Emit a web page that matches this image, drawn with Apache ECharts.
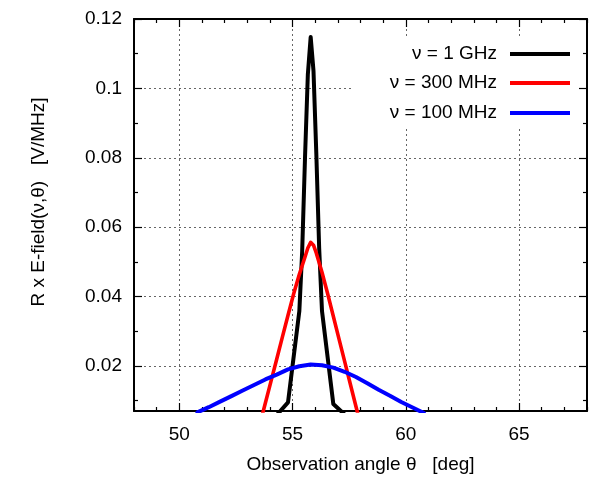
<!DOCTYPE html>
<html>
<head>
<meta charset="utf-8">
<script src="https://cdn.jsdelivr.net/npm/echarts@6/dist/echarts.min.js"></script>
<style>
html,body{margin:0;padding:0;background:#fff;}
#c{width:593px;height:479px;}
</style>
</head>
<body>
<div id="c"></div>
<script>
// ---- data ----
const seriesNames = ['ν = 1 GHz', 'ν = 300 MHz', 'ν = 100 MHz'];
const seriesColors = ['#000000', '#ff0000', '#0000ff'];

const ghz1X = [54.3, 54.8, 55.3, 55.425, 55.55, 55.675, 55.8, 55.925, 56.05, 56.175, 56.3, 56.8, 57.3];
const ghz1Y = [0.0058, 0.0095, 0.0358, 0.0530, 0.0800, 0.1040, 0.1148, 0.1050, 0.0810, 0.0540, 0.0358, 0.0090, 0.0060];

const mhz300X = [53.55, 53.8, 54.05, 54.3, 54.55, 54.8, 55.05, 55.3, 55.55, 55.675, 55.8, 55.925, 56.05, 56.3, 56.55, 56.8, 57.05, 57.3, 57.55, 57.8, 58.05];
const mhz300Y = [0.0030, 0.0093, 0.0156, 0.0219, 0.0283, 0.0346, 0.0408, 0.0464, 0.0514, 0.0540, 0.0556, 0.0548, 0.0525, 0.0470, 0.0408, 0.0343, 0.0278, 0.0213, 0.0148, 0.0083, 0.0018];

const mhz100X = [50.8, 51.3, 51.8, 52.3, 52.8, 53.3, 53.8, 54.3, 54.8, 55.3, 55.8, 56.3, 56.8, 57.3, 57.8, 58.3, 58.8, 59.3, 59.8, 60.3, 60.8];
const mhz100Y = [0.0066, 0.0081, 0.0097, 0.0113, 0.0129, 0.0145, 0.0161, 0.0175, 0.0190, 0.0199, 0.0204, 0.0202, 0.0195, 0.0183, 0.0168, 0.0150, 0.0131, 0.0114, 0.0096, 0.0080, 0.0064];

const xRange = [48, 68];
const yRange = [0.007, 0.12];
const xMajorTicks = [50, 55, 60, 65];
const xTickLabels = ['50', '55', '60', '65'];
const xMinorTicks = [48, 49, 51, 52, 53, 54, 56, 57, 58, 59, 61, 62, 63, 64, 66, 67, 68];
const yMajorTicks = [0.02, 0.04, 0.06, 0.08, 0.1, 0.12];
const yTickLabels = ['0.02', '0.04', '0.06', '0.08', '0.1', '0.12'];
const yMinorTicks = [0.01, 0.03, 0.05, 0.07, 0.09, 0.11];

const xTitle = 'Observation angle θ   [deg]';
const yTitle = 'R x E-field(ν,θ)   [V/MHz]';

// ---- chart ----
const FONT = 'Liberation Sans, Arial, Helvetica, sans-serif';
const zip = (xs, ys) => xs.map((x, i) => [x, ys[i]]);
const seriesData = [zip(ghz1X, ghz1Y), zip(mhz300X, mhz300Y), zip(mhz100X, mhz100Y)];

function mkX(pos, vals, len, main) {
  return {
    type: 'value', min: xRange[0], max: xRange[1], position: pos,
    axisLine: { show: main, onZero: false, lineStyle: { color: '#000', width: 2 } },
    axisTick: { show: true, inside: true, length: len, customValues: vals, lineStyle: { color: '#000', width: 1.2 } },
    axisLabel: (main && pos === 'bottom') ? {
      show: true, customValues: xMajorTicks, margin: 14, color: '#000', fontSize: 19, fontFamily: FONT,
      formatter: v => xTickLabels[xMajorTicks.indexOf(v)] ?? String(v)
    } : { show: false },
    splitLine: (main && pos === 'bottom') ? { show: true, lineStyle: { color: '#666', width: 1, type: [2, 3] } } : { show: false },
    name: (main && pos === 'bottom') ? xTitle : '',
    nameLocation: 'middle', nameGap: 44,
    nameTextStyle: { color: '#000', fontSize: 19, fontFamily: FONT }
  };
}
function mkY(pos, vals, len, main) {
  return {
    type: 'value', min: yRange[0], max: yRange[1], position: pos,
    axisLine: { show: main, onZero: false, lineStyle: { color: '#000', width: 2 } },
    axisTick: { show: true, inside: true, length: len, customValues: vals, lineStyle: { color: '#000', width: 1.2 } },
    axisLabel: (main && pos === 'left') ? {
      show: true, customValues: yMajorTicks, margin: 12, color: '#000', fontSize: 19, fontFamily: FONT,
      formatter: v => { const i = yMajorTicks.findIndex(t => Math.abs(t - v) < 1e-9); return i >= 0 ? yTickLabels[i] : String(v); }
    } : { show: false },
    splitLine: (main && pos === 'left') ? { show: true, lineStyle: { color: '#666', width: 1, type: [2, 3] } } : { show: false },
    name: (main && pos === 'left') ? yTitle : '',
    nameLocation: 'middle', nameGap: 86,
    nameTextStyle: { color: '#000', fontSize: 19, fontFamily: FONT, padding: [0, 0, 0, 26] }
  };
}

const chart = echarts.init(document.getElementById('c'), null, { renderer: 'canvas' });
const legendTops = [44, 73, 103];
chart.setOption({
  animation: false,
  backgroundColor: '#fff',
  grid: { left: 134, right: 6, top: 19, bottom: 66, containLabel: false },
  xAxis: [
    mkX('bottom', xMajorTicks, 8, true),
    mkX('bottom', xMinorTicks, 4, false),
    mkX('top', xMajorTicks, 8, true),
    mkX('top', xMinorTicks, 4, false)
  ],
  yAxis: [
    mkY('left', yMajorTicks, 8, true),
    mkY('left', yMinorTicks, 4, false),
    mkY('right', yMajorTicks, 8, true),
    mkY('right', yMinorTicks, 4, false)
  ],
  graphic: [{
    type: 'rect', z: 1, silent: true,
    shape: { x: 353, y: 38, width: 226, height: 89 },
    style: { fill: '#fff' }
  }],
  legend: seriesNames.map((n, i) => ({
    data: [n], orient: 'vertical', right: 23, top: legendTops[i], padding: 0,
    align: 'right', icon: 'rect', itemWidth: 60, itemHeight: 4, z: 5,
    textStyle: { color: '#000', fontSize: 19, fontFamily: FONT, lineHeight: 20, padding: [0, 8, 0, 0] },
    selectedMode: false
  })),
  series: seriesNames.map((n, i) => ({
    name: n, type: 'line', xAxisIndex: 0, yAxisIndex: 0,
    data: seriesData[i], showSymbol: false, symbol: 'none', clip: true, z: 3,
    color: seriesColors[i],
    lineStyle: { color: seriesColors[i], width: i === 1 ? 3.6 : 4, join: 'round', cap: 'round' }
  }))
});
</script>
</body>
</html>
